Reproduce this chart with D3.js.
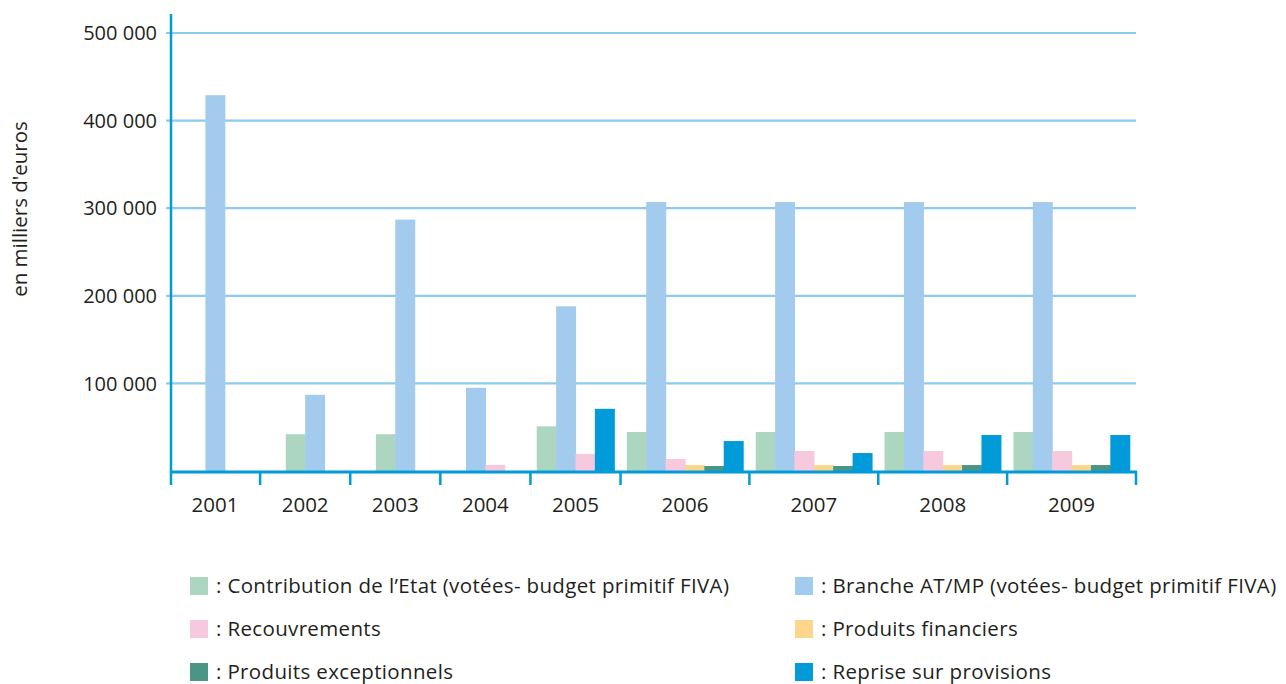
<!DOCTYPE html>
<html>
<head>
<meta charset="utf-8">
<script src="https://cdn.jsdelivr.net/npm/d3@7"></script>
<style>
  body { margin: 0; background: #fff; }
  svg text { font-family: "Open Sans", "Noto Sans", sans-serif; fill: #231f20; }
</style>
</head>
<body>
<svg id="viz" width="1286" height="684"></svg>
<script>
// years and series (en milliers d'euros)
let years = ['2001', '2002', '2003', '2004', '2005', '2006', '2007', '2008', '2009'];
let series_names = [
    'Contribution de l\u2019Etat (votées- budget primitif FIVA)',
    'Branche AT/MP (votées- budget primitif FIVA)',
    'Recouvrements',
    'Produits financiers',
    'Produits exceptionnels',
    'Reprise sur provisions'
];
let colors = ['#acd6bf', '#a3cbee', '#f6c9de', '#fdd68b', '#4a9585', '#009bd8'];

let contribution_etat = [0, 42000, 42000, 0, 51000, 44500, 44500, 44500, 44500];
let branche_atmp = [429000, 87000, 287000, 95000, 188000, 307000, 307000, 307000, 307000];
let recouvrements = [0, 0, 0, 7000, 19500, 13700, 22800, 22800, 22800];
let produits_financiers = [0, 0, 0, 0, 0, 6800, 6800, 6800, 6800];
let produits_exceptionnels = [0, 0, 0, 0, 0, 5700, 5700, 6800, 6800];
let reprise_provisions = [0, 0, 0, 0, 71000, 34200, 20500, 41100, 41100];

let y_ticks = [100000, 200000, 300000, 400000, 500000];

let all_series = [contribution_etat, branche_atmp, recouvrements, produits_financiers, produits_exceptionnels, reprise_provisions];

const svg = d3.select('#viz');
const plot_left = 170, plot_right = 1136, plot_top = 33, base = 471;

const y = d3.scaleLinear().domain([0, 500000]).range([base, plot_top]);

// each year gets a width based on how many bars it carries
let groups = years.map(function (yr, i) {
    let bars = [];
    all_series.forEach(function (s, k) {
        if (s[i] > 0) bars.push({ k: k, v: s[i] });
    });
    return { year: yr, bars: bars, slots: Math.max(4, bars.length) + 0.65 };
});
let total = d3.sum(groups, g => g.slots);
const x = d3.scaleLinear().domain([0, total]).range([plot_left, plot_right]);
let acc = 0;
groups.forEach(function (g) { g.start = acc; acc += g.slots; g.end = acc; });
const unit = x(1) - x(0);

// grid
svg.append('g')
    .selectAll('line')
    .data(y_ticks)
    .join('line')
    .attr('x1', plot_left - 4).attr('x2', plot_right)
    .attr('y1', d => y(d)).attr('y2', d => y(d))
    .attr('stroke', '#8ccbed')
    .attr('stroke-width', 2.2);

// tick labels
svg.append('g')
    .selectAll('text')
    .data(y_ticks)
    .join('text')
    .attr('x', 157)
    .attr('y', d => y(d))
    .attr('dy', '0.36em')
    .attr('text-anchor', 'end')
    .attr('font-size', 20)
    .text(d => d3.format(',')(d).replace(/,/g, ' '));

// bars
const bar_g = svg.append('g');
groups.forEach(function (g) {
    let mid = (x(g.start) + x(g.end)) / 2;
    let x0 = mid - g.bars.length * unit / 2;
    bar_g.append('g')
        .selectAll('rect')
        .data(g.bars)
        .join('rect')
        .attr('x', (d, j) => x0 + j * unit)
        .attr('width', unit + 0.6)
        .attr('y', d => y(d.v))
        .attr('height', d => base - y(d.v))
        .attr('fill', d => colors[d.k]);
});

// axes
const axis_col = '#009bd8';
svg.append('line')
    .attr('x1', plot_left + 1).attr('x2', plot_left + 1)
    .attr('y1', 14).attr('y2', base + 14)
    .attr('stroke', axis_col).attr('stroke-width', 2.5);
svg.append('line')
    .attr('x1', plot_left).attr('x2', plot_right + 1)
    .attr('y1', base + 1).attr('y2', base + 1)
    .attr('stroke', axis_col).attr('stroke-width', 3);

let bounds = groups.map(g => g.end);
svg.append('g')
    .selectAll('line')
    .data(bounds)
    .join('line')
    .attr('x1', d => x(d)).attr('x2', d => x(d))
    .attr('y1', base).attr('y2', base + 14)
    .attr('stroke', axis_col).attr('stroke-width', 2.5);

// year labels
svg.append('g')
    .selectAll('text')
    .data(groups)
    .join('text')
    .attr('x', d => (x(d.start) + x(d.end)) / 2)
    .attr('y', 505)
    .attr('dy', '0.36em')
    .attr('text-anchor', 'middle')
    .attr('font-size', 20.5)
    .text(d => d.year);

// y title
svg.append('text')
    .attr('transform', 'translate(27,209) rotate(-90)')
    .attr('text-anchor', 'middle')
    .attr('font-size', 20.5)
    .text("en milliers d'euros");

// legend
const leg = svg.append('g')
    .selectAll('g')
    .data(series_names)
    .join('g')
    .attr('transform', (d, i) => 'translate(' + (i % 2 === 0 ? 190 : 795) + ',' + (586 + Math.floor(i / 2) * 43) + ')');
leg.append('rect')
    .attr('x', 0).attr('y', -9)
    .attr('width', 18).attr('height', 18)
    .attr('fill', (d, i) => colors[i]);
leg.append('text')
    .attr('x', 26)
    .attr('dy', '0.34em')
    .attr('font-size', 20.5)
    .attr('letter-spacing', 0.35)
    .text(d => ': ' + d);
</script>
</body>
</html>
